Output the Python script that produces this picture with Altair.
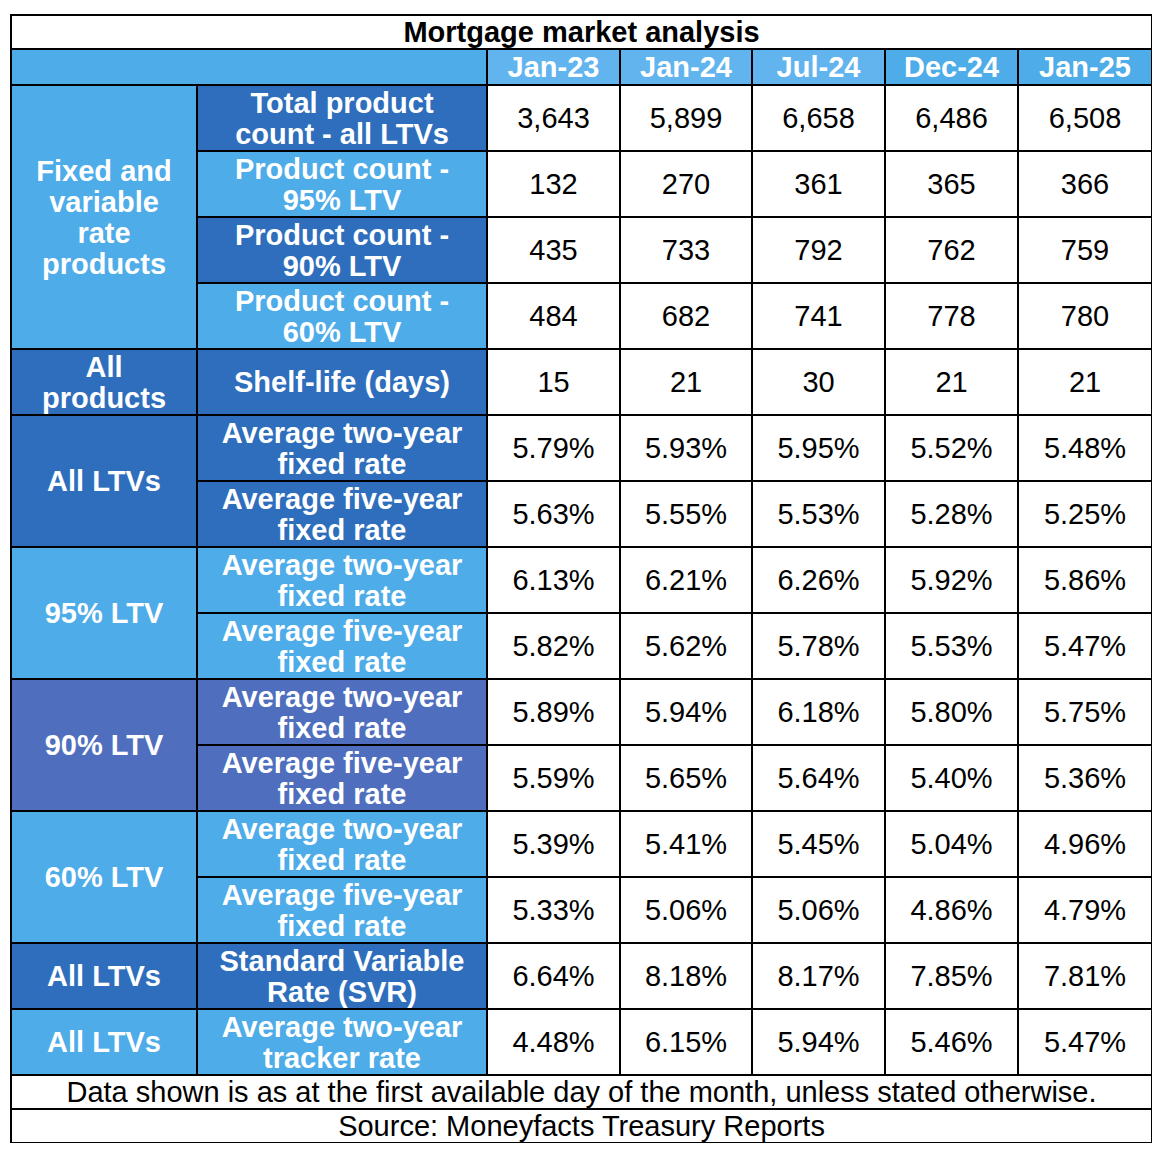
import altair as alt
import pandas as pd

title = "Mortgage market analysis"
dates = ["Jan-23", "Jan-24", "Jul-24", "Dec-24", "Jan-25"]
groups = [
    ("Fixed and\nvariable\nrate\nproducts", 0, 4, "light"),
    ("All\nproducts", 4, 5, "dark"),
    ("All LTVs", 5, 7, "dark"),
    ("95% LTV", 7, 9, "light"),
    ("90% LTV", 9, 11, "purple"),
    ("60% LTV", 11, 13, "light"),
    ("All LTVs", 13, 14, "dark"),
    ("All LTVs", 14, 15, "light"),
]
metrics = [
    "Total product\ncount - all LTVs",
    "Product count -\n95% LTV",
    "Product count -\n90% LTV",
    "Product count -\n60% LTV",
    "Shelf-life (days)",
    "Average two-year\nfixed rate",
    "Average five-year\nfixed rate",
    "Average two-year\nfixed rate",
    "Average five-year\nfixed rate",
    "Average two-year\nfixed rate",
    "Average five-year\nfixed rate",
    "Average two-year\nfixed rate",
    "Average five-year\nfixed rate",
    "Standard Variable\nRate (SVR)",
    "Average two-year\ntracker rate",
]
metric_tone = ["dark", "light", "dark", "light", "dark", "dark", "dark", "light", "light",
               "purple", "purple", "light", "light", "dark", "light"]
values = [
    ["3,643", "5,899", "6,658", "6,486", "6,508"],
    ["132", "270", "361", "365", "366"],
    ["435", "733", "792", "762", "759"],
    ["484", "682", "741", "778", "780"],
    ["15", "21", "30", "21", "21"],
    ["5.79%", "5.93%", "5.95%", "5.52%", "5.48%"],
    ["5.63%", "5.55%", "5.53%", "5.28%", "5.25%"],
    ["6.13%", "6.21%", "6.26%", "5.92%", "5.86%"],
    ["5.82%", "5.62%", "5.78%", "5.53%", "5.47%"],
    ["5.89%", "5.94%", "6.18%", "5.80%", "5.75%"],
    ["5.59%", "5.65%", "5.64%", "5.40%", "5.36%"],
    ["5.39%", "5.41%", "5.45%", "5.04%", "4.96%"],
    ["5.33%", "5.06%", "5.06%", "4.86%", "4.79%"],
    ["6.64%", "8.18%", "8.17%", "7.85%", "7.81%"],
    ["4.48%", "6.15%", "5.94%", "5.46%", "5.47%"],
]
footnote = "Data shown is as at the first available day of the month, unless stated otherwise."
source = "Source: Moneyfacts Treasury Reports"

# layout (styling, not data)
tones = {"light": "#4EACE8", "dark": "#2E6EBC", "purple": "#4F6FBE",
         "hdr_hi": "#61B4EE", "white": "#FFFFFF"}
date_tone = ["hdr_hi", "hdr_hi", "hdr_hi", "light", "light"]
col_edges = [0, 186, 476, 609, 741, 874, 1007, 1141]
title_h, head_h, row_h, foot_h = 34, 36, 66, 34
LH = 31
W = col_edges[-1]
row_top = title_h + head_h
H = row_top + row_h * len(metrics) + 2 * foot_h

cells, texts = [], []

def add(x1, x2, y1, y2, tone, label, kind):
    cells.append(dict(x=x1, x2=x2, y=y1, y2=y2, fill=tones[tone]))
    if label is not None:
        n = label.count("\n") + 1
        texts.append(dict(xc=(x1 + x2) / 2, yc=(y1 + y2) / 2 - (n - 1) * LH / 2,
                          label=label, kind=kind))

add(0, W, 0, title_h, "white", title, "title")
add(0, col_edges[2], title_h, row_top, "light", None, None)
for i, d in enumerate(dates):
    add(col_edges[2 + i], col_edges[3 + i], title_h, row_top, date_tone[i], d, "date")
for g, r0, r1, tone in groups:
    add(0, col_edges[1], row_top + r0 * row_h, row_top + r1 * row_h, tone, g, "label")
for r, m in enumerate(metrics):
    y1, y2 = row_top + r * row_h, row_top + (r + 1) * row_h
    add(col_edges[1], col_edges[2], y1, y2, metric_tone[r], m, "label")
    for c, v in enumerate(values[r]):
        add(col_edges[2 + c], col_edges[3 + c], y1, y2, "white", v, "value")
yf = row_top + row_h * len(metrics)
add(0, W, yf, yf + foot_h, "white", footnote, "foot")
add(0, W, yf + foot_h, yf + 2 * foot_h, "white", source, "foot")

cdf = pd.DataFrame(cells)
tdf = pd.DataFrame(texts)

xs = alt.Scale(domain=[0, W], nice=False, zero=False)
ys = alt.Scale(domain=[0, H], nice=False, zero=False, reverse=True)

rects = alt.Chart(cdf).mark_rect(stroke="black", strokeWidth=2).encode(
    x=alt.X("x:Q", scale=xs, axis=None),
    x2="x2:Q",
    y=alt.Y("y:Q", scale=ys, axis=None),
    y2="y2:Q",
    fill=alt.Fill("fill:N", scale=None),
)

def text_layer(kind, size, weight, color, dy=0):
    return alt.Chart(tdf[tdf.kind == kind]).mark_text(
        font="Liberation Sans", fontSize=size, fontWeight=weight, color=color,
        lineBreak="\n", lineHeight=LH, align="center", baseline="middle", dy=dy,
    ).encode(
        x=alt.X("xc:Q", scale=xs, axis=None),
        y=alt.Y("yc:Q", scale=ys, axis=None),
        text="label:N",
    )

layers = [
    rects,
    text_layer("title", 29, "bold", "black", 1),
    text_layer("date", 29, "bold", "white", 1),
    text_layer("label", 29, "bold", "white", 1),
    text_layer("value", 29, "normal", "black", 1),
    text_layer("foot", 29, "normal", "black", 1),
]

chart = alt.layer(*layers).properties(
    width=W, height=H, autosize="none",
    padding={"left": 3, "top": 7, "right": 0, "bottom": 0},
).configure_view(stroke=None)

chart.save("out.html", embed_options={"renderer": "svg", "actions": False})
